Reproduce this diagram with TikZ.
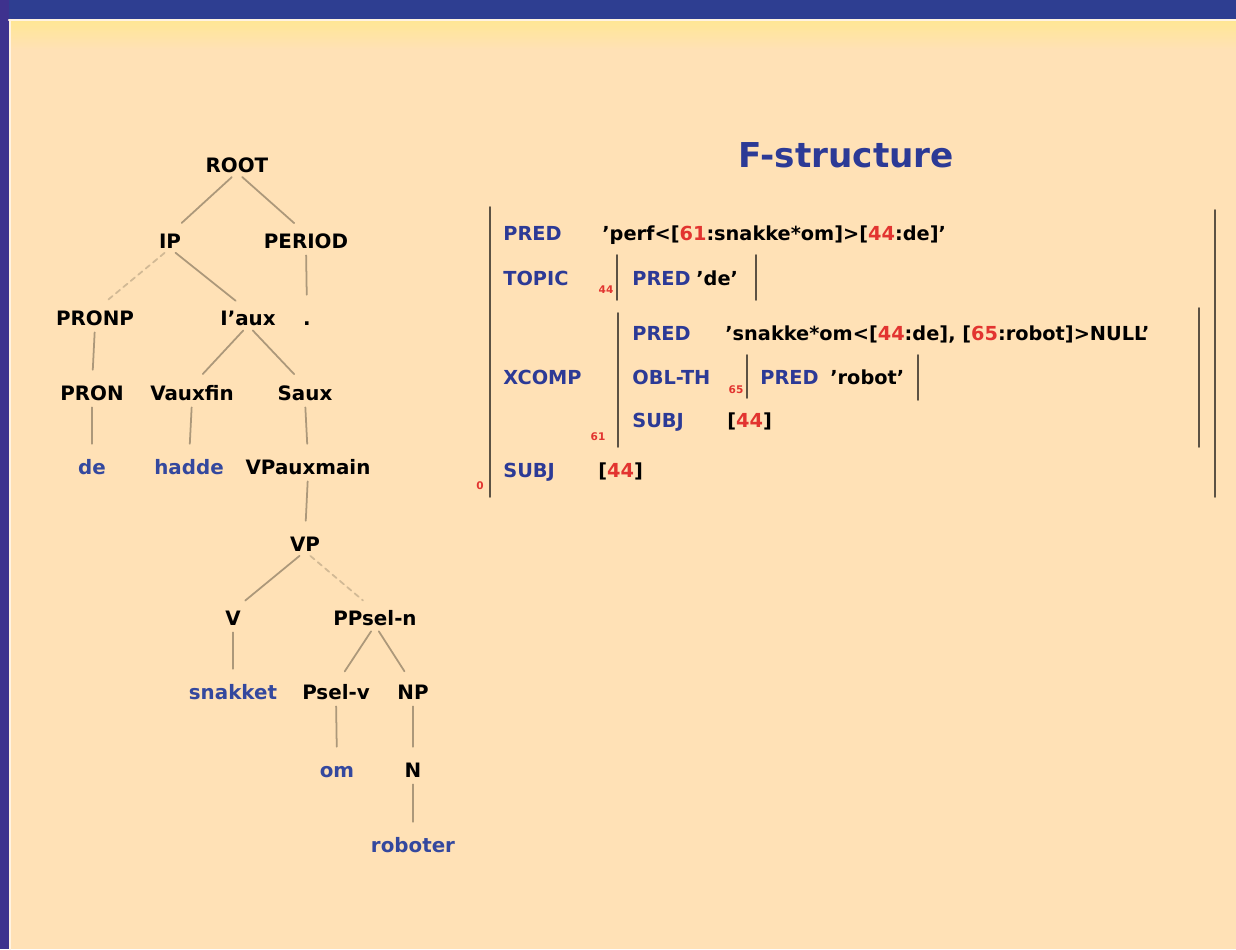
\documentclass[tikz,border=0pt]{standalone}
\usepackage{fontspec}
\setmainfont{DejaVu Sans}
\definecolor{bgblue}{RGB}{46,62,145}
\definecolor{panel}{RGB}{255,225,182}
\definecolor{treeline}{RGB}{172,152,122}
\definecolor{wordblue}{RGB}{52,72,158}
\definecolor{fsblue}{RGB}{44,58,150}
\definecolor{fsred}{RGB}{226,52,48}
\definecolor{barcol}{RGB}{92,82,68}
\newcommand{\rd}[1]{\textcolor{fsred}{#1}}
\begin{document}
\begin{tikzpicture}[x=0.02cm,y=-0.02cm,line cap=round,
  cat/.style={inner sep=0pt,text height=8pt,text depth=0pt,font=\fontsize{11.3}{12}\selectfont\bfseries},
  word/.style={cat,text=wordblue},
  branch/.style={draw=treeline,line width=1pt,shorten <=4pt,shorten >=9pt},
  dbranch/.style={branch,draw=treeline!55!panel,dash pattern=on 3pt off 2.5pt},
  attr/.style={anchor=west,inner sep=0pt,text height=8pt,text depth=0pt,font=\fontsize{11}{12}\selectfont\bfseries,text=fsblue},
  val/.style={attr,text=black},
  idx/.style={inner sep=0pt,font=\fontsize{6}{7}\selectfont\bfseries,text=fsred},
  bar/.style={draw=barcol,line width=1pt}]
  \useasboundingbox (0,0) rectangle (1236,949);
  % frame and panel
  \fill[bgblue] (0,0) rectangle (1236,949);
  \fill[bgblue!80!violet] (0,0) rectangle (9,949);
  \fill[panel] (9,19) rectangle (1236,949);
  \shade[top color=yellow!18!panel,bottom color=panel] (11,21) rectangle (1236,50);
  \draw[white!60!panel,line width=1.2pt] (9,20)--(1236,20) (10,20)--(10,949);
  % c-structure
  \node[cat] (ROOT) at (237,165) {ROOT};
  \node[cat] (IP) at (170,241) {IP};
  \node[cat] (PERIOD) at (306,241) {PERIOD};
  \node[cat] (PRONP) at (95,318) {PRONP};
  \node[cat] (Iaux) at (248,318) {I'aux};
  \node[cat] (dot) at (307,318) {.};
  \node[cat] (PRON) at (92,393) {PRON};
  \node[cat] (Vauxfin) at (192,393) {Vauxfin};
  \node[cat] (Saux) at (305,393) {Saux};
  \node[word] (de) at (92,467) {de};
  \node[word] (hadde) at (189,467) {hadde};
  \node[cat] (VPauxmain) at (308,467) {VPauxmain};
  \node[cat] (VP) at (305,544) {VP};
  \node[cat] (V) at (233,618) {V};
  \node[cat] (PPseln) at (375,618) {PPsel-n};
  \node[word] (snakket) at (233,692) {snakket};
  \node[cat] (Pselv) at (336,692) {Psel-v};
  \node[cat] (NP) at (413,692) {NP};
  \node[word] (om) at (337,770) {om};
  \node[cat] (N) at (413,770) {N};
  \node[word] (roboter) at (413,845) {roboter};
  \foreach \a/\b in {ROOT/IP,ROOT/PERIOD,IP/Iaux,PERIOD/dot,PRONP/PRON,Iaux/Vauxfin,Iaux/Saux,
    PRON/de,Vauxfin/hadde,Saux/VPauxmain,VPauxmain/VP,VP/V,V/snakket,PPseln/Pselv,PPseln/NP,
    Pselv/om,NP/N,N/roboter}
    \draw[branch] (\a.south)--(\b.north);
  \foreach \a/\b in {IP/PRONP,VP/PPseln}
    \draw[dbranch] (\a.south)--(\b.north);
  % f-structure
  \node[font=\fontsize{19.5}{22}\selectfont\bfseries,text=fsblue] (title) at (846,155) {F-structure};
  \draw[bar] (490,207)--(490,497) (1215,210)--(1215,497);
  \node[idx] (i0) at (480,486) {0};
  \node[attr] (pred) at (503,233) {PRED};
  \node[val] (predval) at (602,233) {'perf<[\rd{61}:snakke*om]>[\rd{44}:de]'};
  \node[attr] (topic) at (503,278) {TOPIC};
  \node[idx] (i44) at (606,290) {44};
  \draw[bar] (617,255)--(617,300) (756,255)--(756,300);
  \node[attr] (tpred) at (632,278) {PRED};
  \node[val] (tval) at (696,278) {'de'};
  \node[attr] (xcomp) at (503,377) {XCOMP};
  \node[idx] (i61) at (598,437) {61};
  \draw[bar] (618,313)--(618,447) (1199,308)--(1199,447);
  \node[attr] (xpred) at (632,333) {PRED};
  \node[val] (xval) at (725,333) {'snakke*om<[\rd{44}:de], [\rd{65}:robot]>NULL'};
  \node[attr] (obl) at (632,377) {OBL-TH};
  \node[idx] (i65) at (736,390) {65};
  \draw[bar] (747,355)--(747,398) (918,355)--(918,400);
  \node[attr] (opred) at (760,377) {PRED};
  \node[val] (oval) at (830,377) {'robot'};
  \node[attr] (xsubj) at (632,420) {SUBJ};
  \node[val] (xsval) at (727,420) {[\rd{44}]};
  \node[attr] (subj) at (503,470) {SUBJ};
  \node[val] (sval) at (598,470) {[\rd{44}]};
\end{tikzpicture}
\end{document}
